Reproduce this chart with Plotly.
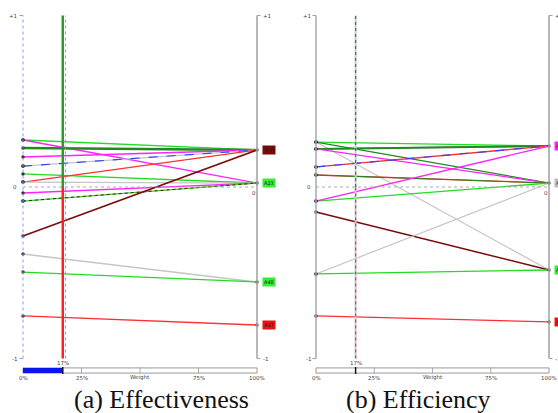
import plotly.graph_objects as go

W, H = 558, 413

# ---------------- data ----------------
# (a) Effectiveness
eff_nodes = ["A38", "A23", "A48", "A47"]
eff_node_vals = [0.216, 0.023, -0.554, -0.805]
eff_start = [0.274, 0.274, 0.227, 0.175, 0.122, 0.122, 0.076, 0.029, 0.029,
             -0.035, -0.082, -0.082, -0.286, -0.391, -0.496, -0.752]
eff_to = ["A38", "A23", "A38", "A38", "A38", "A38", "A23", "A38", "A23",
          "A23", "A23", "A23", "A38", "A48", "A48", "A47"]
eff_weight = 0.17

# (b) Efficiency
effi_nodes = ["A31", "A23", "A48", "A47"]
effi_node_vals = [0.239, 0.023, -0.484, -0.787]
effi_start = [0.262, 0.262, 0.262, 0.222, 0.222, 0.222, 0.117, 0.117, 0.070, 0.070,
              -0.082, -0.082, -0.146, -0.507, -0.507, -0.752]
effi_to = ["A31", "A48", "A23", "A31", "A31", "A23", "A31", "A31", "A23", "A23",
           "A23", "A31", "A48", "A48", "A23", "A47"]
effi_weight = 0.17

slider_ticks = [0, 0.25, 0.5, 0.75, 1.0]
slider_labels = ["0%", "25%", "Weight", "75%", "100%"]
captions = ["(a) Effectiveness", "(b) Efficiency"]

# ---------------- styles ----------------
GREEN = "#22dd22"
DGREEN = "#1f8a1f"
MAG = "#ff22ff"
RED = "#ff3030"
DRED = "#7a0a0a"
GRAY = "#c4c4c4"
BLUE = "#3040ff"

eff_style = [(GREEN, "solid", 1.3), (MAG, "solid", 1.3), (DGREEN, "solid", 2.4),
             (MAG, "solid", 1.3), (GRAY, "solid", 1.3), (BLUE, "dash", 1.1),
             (GREEN, "solid", 1.3), (RED, "solid", 1.3), (GRAY, "solid", 1.3),
             (MAG, "solid", 1.3), (GREEN, "solid", 1.3), (DRED, "dot", 1.0),
             (DRED, "solid", 1.5), (GRAY, "solid", 1.5), (GREEN, "solid", 1.3),
             (RED, "solid", 1.3)]
effi_style = [(GREEN, "solid", 1.3), (GRAY, "solid", 1.2), (DGREEN, "solid", 1.3),
              (MAG, "solid", 1.3), (DGREEN, "solid", 2.0), (MAG, "solid", 1.3),
              (RED, "solid", 1.3), (BLUE, "dash", 1.1), (RED, "solid", 1.3),
              (DGREEN, "solid", 1.0), (GREEN, "solid", 1.3), (MAG, "solid", 1.3),
              (DRED, "solid", 1.5), (GREEN, "solid", 1.3), (GRAY, "solid", 1.2),
              (RED, "solid", 1.3)]
eff_node_colors = [DRED, "#33ee33", "#33ee33", "#ee1111"]
effi_node_colors = [MAG, "#bdbdbd", "#33ee33", "#ee1111"]

# pixel geometry -> axis ranges
def xrange_for(px_left, px_right, ax0, ax1):
    s = (ax1 - ax0)
    return [(px_left - ax0) / s, (px_right - ax0) / s]

Y0PX, YSC = 187.0, 171.5
yr = [(Y0PX - H) / YSC, Y0PX / YSC]

fig = go.Figure()
fig.update_layout(
    width=W, height=H, margin=dict(l=0, r=0, t=0, b=0),
    paper_bgcolor="white", plot_bgcolor="white", showlegend=False,
    xaxis=dict(domain=[0, 0.5], range=xrange_for(0, 279, 23, 257), visible=False, fixedrange=True),
    yaxis=dict(domain=[0, 1], range=yr, visible=False, fixedrange=True),
    xaxis2=dict(domain=[0.5, 1], range=xrange_for(279, 558, 316, 549), visible=False, fixedrange=True),
    yaxis2=dict(domain=[0, 1], range=yr, visible=False, fixedrange=True, anchor="x2"),
)

SMALL = dict(family="DejaVu Sans", size=5.5, color="#444")
SERIF = "Liberation Serif"

panels = [
    ("x", "y", eff_nodes, eff_node_vals, eff_start, eff_to, eff_style, eff_node_colors, eff_weight, True),
    ("x2", "y2", effi_nodes, effi_node_vals, effi_start, effi_to, effi_style, effi_node_colors, effi_weight, False),
]

for pi, (xa, ya, nodes, nvals, starts, tos, styles, ncols, wgt, first) in enumerate(panels):
    def add_shape(**kw):
        fig.add_shape(xref=xa, yref=ya, **kw)

    # left axis
    if first:
        add_shape(type="line", x0=0, x1=0, y0=-1, y1=1, line=dict(color="#8899ff", width=1, dash="dot"))
    else:
        add_shape(type="line", x0=0, x1=0, y0=-1, y1=1, line=dict(color="#aaaaaa", width=1.5))
    # right axis
    add_shape(type="line", x0=1, x1=1, y0=-1, y1=1, line=dict(color="#a0a0a0", width=1.5))
    for yy in (-1, 1):
        add_shape(type="line", x0=1, x1=1.015, y0=yy, y1=yy, line=dict(color="#a0a0a0", width=1))
        add_shape(type="line", x0=-0.015, x1=0, y0=yy, y1=yy, line=dict(color="#a0a0a0", width=1))
    # zero line
    add_shape(type="line", x0=0, x1=1, y0=0, y1=0, line=dict(color="#aaaaaa", width=1, dash="dot"))

    # alternative lines
    lookup = dict(zip(nodes, nvals))
    for s, t, (c, d, w) in zip(starts, tos, styles):
        fig.add_trace(go.Scatter(x=[0, 1], y=[s, lookup[t]], mode="lines",
                                 line=dict(color=c, width=w, dash=d),
                                 xaxis=xa, yaxis=ya, hoverinfo="skip"))
    # start dots
    fig.add_trace(go.Scatter(x=[0] * len(starts), y=starts, mode="markers",
                             marker=dict(size=3.5, color="#333", line=dict(width=0)),
                             xaxis=xa, yaxis=ya, hoverinfo="skip"))
    # end dots
    fig.add_trace(go.Scatter(x=[1] * len(nvals), y=nvals, mode="markers",
                             marker=dict(size=3.5, color="#555"),
                             xaxis=xa, yaxis=ya, hoverinfo="skip"))

    # weight line
    if first:
        add_shape(type="line", x0=wgt, x1=wgt, y0=0, y1=1, line=dict(color="#2a9a2a", width=2.5))
        add_shape(type="line", x0=wgt, x1=wgt, y0=-1, y1=0, line=dict(color="#ff2020", width=2.5))
        add_shape(type="line", x0=wgt + 0.012, x1=wgt + 0.012, y0=-1, y1=1,
                  line=dict(color="#8899ff", width=1, dash="dot"))
    else:
        add_shape(type="line", x0=wgt, x1=wgt, y0=-1, y1=1, line=dict(color="#cccccc", width=2))
        add_shape(type="line", x0=wgt, x1=wgt, y0=0, y1=1, line=dict(color="#118888", width=1.2, dash="dot"))
        add_shape(type="line", x0=wgt, x1=wgt, y0=-1, y1=0, line=dict(color="#ff2266", width=1.2, dash="dot"))

    # node labels
    for n, v, c in zip(nodes, nvals, ncols):
        fig.add_annotation(x=1.02, y=v, xref=xa, yref=ya, text=n, showarrow=False,
                           xanchor="left", yanchor="middle", bgcolor=c, borderpad=1,
                           font=dict(family="DejaVu Sans", size=5, color="#222"))

    # axis tick labels
    for val, txt in ((1, "+1"), (0, "0"), (-1, "-1")):
        fig.add_annotation(x=-0.015, y=val, xref=xa, yref=ya, text=txt, showarrow=False,
                           xanchor="right", yanchor="middle", font=SMALL)
        if val == 0:
            fig.add_annotation(x=1.004, y=-0.004, xref=xa, yref=ya, text="0",
                               showarrow=False, xanchor="right", yanchor="top", font=SMALL)
        else:
            fig.add_annotation(x=1.015, y=val, xref=xa, yref=ya, text=txt,
                               showarrow=False, xanchor="left", yanchor="middle", font=SMALL)

    # slider
    sy0, sy1 = -1.085, -1.055
    add_shape(type="rect", x0=0, x1=1, y0=sy0, y1=sy1, line=dict(color="#999", width=1), fillcolor="white")
    if first:
        add_shape(type="rect", x0=0, x1=wgt, y0=sy0, y1=sy1, line=dict(width=0), fillcolor="#0a14ee")
    add_shape(type="line", x0=wgt, x1=wgt, y0=sy0 - 0.005, y1=sy1 + 0.005, line=dict(color="#111", width=1.5))
    for tk in slider_ticks[1:-1]:
        add_shape(type="line", x0=tk, x1=tk, y0=sy0, y1=sy1, line=dict(color="#999", width=0.8))
    for tk, lab in zip(slider_ticks, slider_labels):
        fig.add_annotation(x=tk, y=-1.113, xref=xa, yref=ya, text=lab, showarrow=False,
                           xanchor="center", yanchor="middle", font=SMALL)
    fig.add_annotation(x=wgt, y=-1.027, xref=xa, yref=ya, text=f"{round(wgt*100)}%", showarrow=False,
                       xanchor="center", yanchor="middle", font=SMALL)

    # caption
    fig.add_annotation(x=0.59 if first else 0.442, y=-1.24, xref=xa, yref=ya, text=captions[pi],
                       showarrow=False, xanchor="center", yanchor="middle",
                       font=dict(family=SERIF, size=26, color="#111"))

fig.write_html("out.html", config={"displayModeBar": False},
               post_script="document.body.style.margin='0';document.body.style.overflow='hidden';")
